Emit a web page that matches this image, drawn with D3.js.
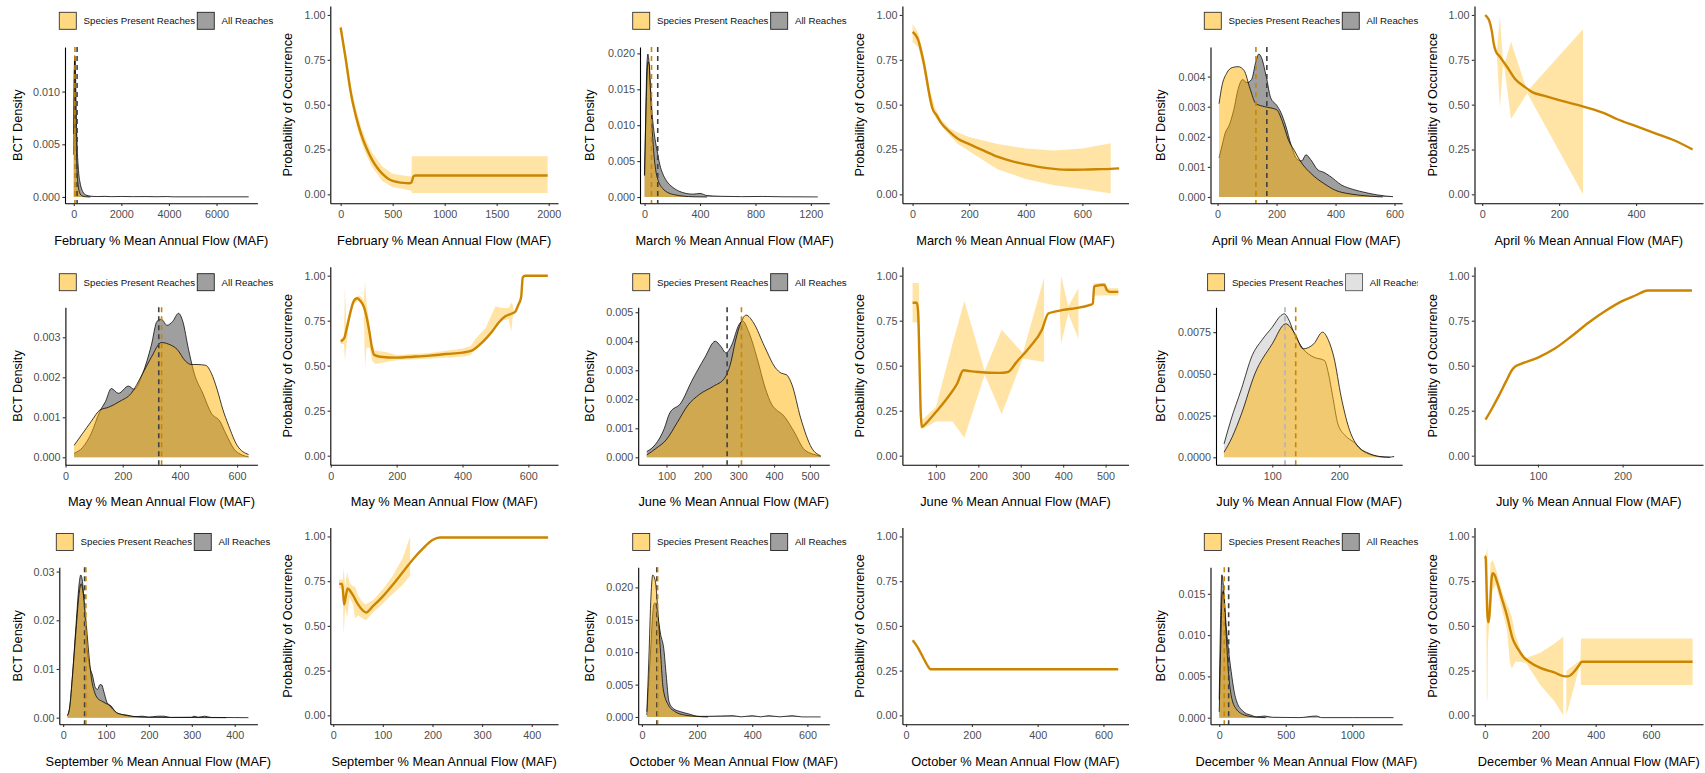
<!DOCTYPE html>
<html>
<head>
<meta charset="utf-8">
<script src="https://cdn.jsdelivr.net/npm/d3@7"></script>
<style>
  html, body { margin: 0; padding: 0; background: #ffffff; }
  svg { display: block; }
</style>
</head>
<body>
<svg id="chart" width="1705" height="773"></svg>
<script>
// ---------------------------------------------------------------------------
// Density of BCT occurrence (species-present vs all reaches) and modelled
// probability of occurrence against monthly % mean annual flow.
// ---------------------------------------------------------------------------

// ---- February ----
const febSpecies = [[0,0.006],[20,0.0115],[40,0.0134],[60,0.012],[90,0.007],[130,0.003],[180,0.0012],[250,0.0004],[350,0.0001],[500,0.00002],[700,0]];
const febAll = [[0,0.004],[20,0.0105],[45,0.0133],[70,0.012],[100,0.0085],[140,0.005],[200,0.0025],[280,0.0012],[380,0.0005],[500,0.0002],[700,0.00008],[1000,0.00004],[1300,0.00006],[1600,0.00003],[2000,0.00005],[2500,0.00003],[3000,0.00004],[3500,0.00002],[3900,0.00004],[4200,0.00001],[5500,0.00001],[7350,0.00001]];
const febMeans = [50, 140];   // [species present, all reaches]
const febProb = [[0,0.93],[25,0.84],[50,0.75],[75,0.65],[100,0.56],[150,0.43],[200,0.33],[250,0.255],[300,0.195],[350,0.15],[400,0.115],[450,0.09],[500,0.075],[550,0.068],[600,0.064],[660,0.062],[680,0.066],[700,0.1],[720,0.105],[1990,0.105]];
const febBand = [[0,0.90,0.96],[50,0.71,0.79],[100,0.52,0.60],[150,0.39,0.47],[200,0.29,0.37],[250,0.215,0.295],[300,0.155,0.235],[400,0.075,0.155],[500,0.04,0.115],[600,0.03,0.105],[680,0.02,0.10],[685,0.008,0.213],[1990,0.008,0.213]];

// ---- March ----
const marSpecies = [[0,0.003],[8,0.010],[16,0.016],[25,0.0188],[33,0.0185],[42,0.015],[52,0.0105],[65,0.0065],[80,0.0038],[100,0.0022],[130,0.0012],[170,0.0006],[220,0.0003],[280,0.00012],[350,0.00003],[450,0]];
const marAll = [[0,0.003],[8,0.011],[16,0.018],[24,0.0199],[32,0.0188],[42,0.0155],[55,0.0115],[70,0.0088],[90,0.0065],[110,0.0045],[130,0.0033],[160,0.0022],[200,0.0014],[250,0.0008],[300,0.0005],[350,0.0004],[400,0.0005],[450,0.0002],[550,0.0001],[700,0.00005],[850,0.00008],[1000,0.00003],[1250,0.00001]];
const marMeans = [50, 95];
const marProb = [[0,0.905],[10,0.89],[20,0.86],[30,0.80],[40,0.73],[50,0.64],[60,0.55],[70,0.48],[85,0.44],[100,0.40],[130,0.35],[160,0.31],[200,0.28],[250,0.245],[300,0.21],[350,0.185],[400,0.167],[450,0.152],[500,0.142],[550,0.137],[600,0.138],[650,0.14],[700,0.142],[730,0.145]];
const marBand = [[0,0.85,0.95],[20,0.82,0.90],[40,0.69,0.77],[60,0.51,0.59],[80,0.43,0.48],[100,0.39,0.42],[130,0.33,0.37],[160,0.28,0.345],[200,0.24,0.32],[300,0.14,0.28],[400,0.085,0.255],[500,0.05,0.245],[600,0.03,0.255],[700,0.005,0.285]];

// ---- April ----
const aprSpecies = [[5,0.0031],[15,0.0037],[30,0.0041],[50,0.0043],[70,0.00433],[90,0.0042],[110,0.0036],[130,0.0031],[160,0.0030],[200,0.0029],[220,0.0025],[240,0.0019],[260,0.00155],[280,0.0012],[320,0.00075],[360,0.00045],[400,0.00022],[450,0.0001],[500,0.00004],[560,0]];
const aprAll = [[5,0.0013],[15,0.0017],[25,0.0021],[40,0.0024],[55,0.0029],[70,0.0036],[85,0.0039],[100,0.0038],[115,0.0039],[130,0.0045],[140,0.00475],[150,0.0046],[165,0.0040],[180,0.0033],[200,0.00305],[215,0.0028],[230,0.0024],[250,0.0017],[270,0.00125],[285,0.0012],[300,0.0014],[315,0.00125],[340,0.0009],[360,0.00082],[380,0.0007],[420,0.0004],[460,0.00025],[500,0.00015],[540,0.00007],[570,0.00003],[595,0.00001]];
const aprMeans = [130, 167];
const aprProb = [[8,1.0],[12,0.99],[18,0.97],[25,0.91],[30,0.84],[35,0.80],[45,0.77],[55,0.74],[65,0.71],[85,0.645],[110,0.60],[130,0.57],[160,0.55],[200,0.525],[250,0.497],[300,0.465],[320,0.45],[350,0.42],[400,0.38],[450,0.34],[500,0.30],[547,0.25]];
const aprBand = [[38,0.78,0.80],[46,0.48,0.99],[54,0.72,0.75],[58,0.70,0.73],[75,0.42,0.85],[117,0.565,0.575],[262,0.0,0.92]];

// ---- May ----
const maySpecies = [[30,0.0003],[60,0.0006],[90,0.0009],[120,0.00118],[150,0.00125],[190,0.0014],[230,0.0016],[270,0.0021],[300,0.0025],[335,0.00287],[360,0.00283],[390,0.0027],[420,0.0024],[440,0.00232],[460,0.00232],[490,0.0023],[510,0.0021],[530,0.0017],[550,0.0012],[570,0.0008],[600,0.0003],[640,0.00007]];
const mayAll = [[30,0.0001],[60,0.00025],[90,0.0006],[120,0.00115],[140,0.0014],[160,0.00172],[185,0.0016],[220,0.00178],[240,0.0017],[270,0.0021],[300,0.0028],[320,0.0034],[335,0.00345],[355,0.0033],[375,0.0034],[395,0.0036],[410,0.0034],[430,0.0027],[450,0.0021],[480,0.0016],[510,0.0011],[540,0.0009],[560,0.0006],[590,0.0002],[620,0.00005],[640,0.00001]];
const mayMeans = [336, 326];
const mayProb = [[30,0.635],[40,0.65],[50,0.72],[60,0.80],[70,0.86],[80,0.875],[90,0.86],[100,0.83],[110,0.76],[118,0.68],[125,0.60],[132,0.56],[150,0.55],[200,0.545],[250,0.55],[300,0.556],[350,0.565],[400,0.573],[430,0.585],[460,0.63],[490,0.69],[510,0.74],[530,0.775],[550,0.79],[560,0.80],[570,0.84],[578,0.88],[583,0.99],[590,1.0],[659,1.0]];
const mayBand = [[30,0.62,0.65],[40,0.62,0.66],[43,0.53,0.95],[47,0.60,0.72],[55,0.74,0.79],[70,0.845,0.875],[85,0.86,0.89],[95,0.84,0.88],[100,0.81,0.86],[104,0.48,0.97],[108,0.60,0.86],[118,0.60,0.72],[125,0.53,0.62],[135,0.51,0.585],[170,0.52,0.575],[200,0.53,0.56],[300,0.54,0.57],[400,0.55,0.595],[425,0.56,0.61],[440,0.60,0.65],[470,0.64,0.71],[500,0.72,0.83],[520,0.75,0.82],[540,0.76,0.82],[548,0.69,0.85],[552,0.76,0.84],[555,0.80,0.81]];

// ---- June ----
const junSpecies = [[45,0.00008],[70,0.0003],[99,0.0006],[130,0.0012],[160,0.0018],[191,0.00216],[231,0.00245],[262,0.00273],[280,0.0033],[292,0.004],[307,0.00463],[322,0.0049],[343,0.00463],[373,0.00383],[404,0.00308],[420,0.0029],[434,0.00285],[450,0.0025],[474,0.00136],[505,0.00032],[530,0.00005]];
const junAll = [[45,0.0002],[68,0.00043],[94,0.001],[109,0.00153],[140,0.00187],[170,0.00262],[206,0.00342],[236,0.004],[251,0.00383],[266,0.0036],[282,0.00388],[302,0.00457],[312,0.0047],[330,0.0043],[353,0.0034],[375,0.0024],[394,0.00181],[410,0.0016],[424,0.00147],[455,0.0009],[485,0.00026],[525,0.00005],[530,0.00003]];
const junMeans = [309, 269];
const junProb = [[45,0.85],[55,0.85],[58,0.80],[61,0.55],[64,0.25],[67,0.16],[75,0.175],[90,0.215],[110,0.27],[130,0.33],[150,0.40],[165,0.475],[180,0.47],[200,0.465],[250,0.46],[270,0.465],[290,0.52],[320,0.60],[350,0.70],[365,0.79],[380,0.80],[400,0.81],[430,0.82],[460,0.835],[470,0.845],[473,0.94],[480,0.945],[497,0.95],[503,0.92],[510,0.91],[530,0.91]];
const junBand = [[45,0.74,0.96],[57,0.74,0.96],[60,0.55,0.96],[63,0.15,0.35],[68,0.15,0.20],[100,0.19,0.27],[139,0.19,0.62],[167,0.10,0.86],[215,0.45,0.47],[255,0.23,0.70],[305,0.54,0.57],[355,0.52,0.99],null,[392,0.79,0.81],[395,0.62,1.0],[412,0.79,0.83],[436,0.65,0.93],null,[472,0.89,0.96],[500,0.89,0.96],[505,0.89,0.93],[530,0.89,0.93]];

// ---- July ----
const julSpecies = [[28,0.0003],[40,0.0012],[54,0.0026],[74,0.005],[100,0.0068],[120,0.008],[134,0.0074],[146,0.0065],[162,0.0068],[175,0.0075],[184,0.007],[192,0.006],[203,0.0036],[214,0.0018],[227,0.0007],[243,0.00026],[260,0.00005],[276,0]];
const julAll = [[28,0.0008],[38,0.0022],[54,0.0041],[70,0.0061],[84,0.007],[100,0.0078],[113,0.0085],[118,0.0086],[124,0.0083],[133,0.0074],[146,0.0065],[162,0.006],[178,0.0058],[184,0.005],[190,0.0037],[198,0.002],[209,0.0013],[222,0.0009],[238,0.0003],[265,0.00002],[275,0.00001],[282,0.00005]];
const julMeans = [135, 119];
const julProb = [[38,0.2],[46,0.265],[54,0.335],[62,0.41],[70,0.48],[73,0.495],[80,0.51],[100,0.545],[120,0.595],[140,0.665],[160,0.74],[180,0.805],[200,0.86],[215,0.89],[230,0.918],[282,0.918]];

// ---- September ----
const sepSpecies = [[10,0.0004],[15,0.002],[22,0.0088],[30,0.018],[38,0.026],[42,0.0275],[46,0.026],[52,0.0211],[60,0.013],[66,0.008],[73,0.0053],[80,0.004],[90,0.0034],[100,0.0029],[107,0.0026],[115,0.0018],[124,0.0011],[140,0.0006],[160,0.0003],[190,0.0001],[230,0.00005],[300,0.00003],[330,0.00002],[380,0]];
const sepAll = [[10,0.0005],[15,0.002],[22,0.009],[30,0.019],[38,0.028],[41,0.0293],[45,0.028],[50,0.022],[55,0.015],[62,0.0105],[68,0.0088],[75,0.0062],[80,0.0058],[86,0.0068],[90,0.0067],[95,0.0053],[103,0.003],[112,0.0024],[124,0.001],[140,0.0006],[150,0.0005],[165,0.0002],[185,0.0003],[200,0.0001],[220,0.0003],[235,0.0003],[250,0.00005],[300,0.0001],[305,0.0003],[315,0.0001],[330,0.0003],[345,0.00005],[400,0.00002],[432,0]];
const sepMeans = [53, 50];
const sepProb = [[12,0.735],[18,0.735],[20,0.68],[22,0.62],[25,0.66],[29,0.71],[33,0.70],[40,0.67],[50,0.62],[60,0.585],[66,0.575],[80,0.61],[100,0.665],[120,0.73],[140,0.80],[160,0.87],[180,0.93],[200,0.98],[215,0.994],[433,0.994]];
const sepBand = [[12,0.71,0.76],[19,0.71,0.76],[21,0.45,0.82],[24,0.60,0.72],[28,0.55,0.80],[33,0.66,0.74],[40,0.62,0.72],[44,0.54,0.72],[50,0.56,0.67],[60,0.54,0.63],[66,0.53,0.62],[80,0.575,0.645],[100,0.625,0.705],[120,0.68,0.78],[140,0.73,0.88],[155,0.78,1.0]];

// ---- October ----
const octSpecies = [[18,0.0008],[25,0.0088],[33,0.0188],[39,0.0219],[48,0.0211],[59,0.0157],[68,0.0096],[77,0.0044],[95,0.0019],[121,0.0008],[154,0.0003],[194,0.0001],[240,0]];
const octAll = [[18,0.0003],[29,0.0085],[44,0.0175],[48,0.0176],[55,0.0162],[68,0.0127],[79,0.0106],[88,0.0065],[98,0.0024],[114,0.0013],[141,0.0008],[167,0.0005],[207,0.0001],[240,0.0001],[330,0.0002],[360,0.00002],[400,0.0002],[430,0.00002],[460,0.0002],[500,0.00002],[545,0.0002],[580,0.00001],[648,0.00001]];
const octMeans = [57, 54];
const octProb = [[20,0.42],[30,0.395],[40,0.365],[50,0.33],[60,0.295],[68,0.27],[75,0.258],[645,0.258]];

// ---- December ----
const decSpecies = [[0,0.0007],[11,0.0084],[22,0.0149],[30,0.0153],[44,0.0124],[58,0.0084],[71,0.0052],[90,0.0027],[126,0.0011],[193,0.0003],[260,0.0001],[350,0]];
const decAll = [[0,0.0022],[11,0.0124],[20,0.0173],[35,0.0153],[52,0.0112],[71,0.008],[90,0.0056],[112,0.0032],[140,0.0016],[166,0.001],[193,0.0006],[240,0.0003],[280,0.0001],[340,0.0002],[400,0.00005],[600,0.00001],[730,0.0002],[770,0.00001],[1000,0.00001],[1310,0.00001]];
const decMeans = [38, 71];
const decProb = [[0,0.89],[3,0.88],[5,0.78],[8,0.60],[12,0.52],[16,0.55],[20,0.65],[24,0.76],[28,0.795],[35,0.785],[45,0.74],[60,0.66],[80,0.555],[100,0.43],[120,0.37],[140,0.325],[160,0.30],[200,0.265],[250,0.24],[290,0.218],[300,0.218],[320,0.24],[340,0.28],[350,0.30],[750,0.30]];
const decBand = [[0,0.80,0.90],[4,0.80,0.90],[7,0.10,0.92],[9,0.08,0.94],[11,0.40,0.70],[15,0.50,0.60],[20,0.55,0.85],[28,0.70,0.87],[40,0.73,0.82],[60,0.60,0.70],[80,0.48,0.62],[90,0.30,0.58],[97,0.26,0.55],[110,0.30,0.45],[130,0.30,0.36],[150,0.29,0.32],[200,0.17,0.35],[250,0.08,0.40],[283,0.0,0.44],null,[294,0.0,0.25],[345,0.29,0.31],[347,0.17,0.43],[750,0.17,0.43]];

// ---- tick values ----
const probTicks = [0, 0.25, 0.5, 0.75, 1];
const febDensityTicks = [0, 2000, 4000, 6000];
const febProbTicks = [0, 500, 1000, 1500, 2000];
const marDensityTicks = [0, 400, 800, 1200];
const marProbTicks = [0, 200, 400, 600];
const aprDensityTicks = [0, 200, 400, 600];
const aprProbTicks = [0, 200, 400];
const mayTicks = [0, 200, 400, 600];
const junTicks = [100, 200, 300, 400, 500];
const julTicks = [100, 200];
const sepTicks = [0, 100, 200, 300, 400];
const octTicks = [0, 200, 400, 600];
const decDensityTicks = [0, 500, 1000];
const decProbTicks = [0, 200, 400, 600];

const febDensityY = [0, 0.005, 0.010];
const marDensityY = [0, 0.005, 0.010, 0.015, 0.020];
const aprDensityY = [0, 0.001, 0.002, 0.003, 0.004];
const mayDensityY = [0, 0.001, 0.002, 0.003];
const junDensityY = [0, 0.001, 0.002, 0.003, 0.004, 0.005];
const julDensityY = [0, 0.0025, 0.005, 0.0075];
const sepDensityY = [0, 0.01, 0.02, 0.03];
const octDensityY = [0, 0.005, 0.010, 0.015, 0.020];
const decDensityY = [0, 0.005, 0.010, 0.015];

const legendLabels = ["Species Present Reaches", "All Reaches"];

// ---- styling ----
const FONT = '"Liberation Sans", Arial, Helvetica, sans-serif';
const SPECIES_FILL = "#ffb100";
const LINE_ORANGE = "#cc8500";
const BAND_FILL = "#ffb100";
const PALETTES = {
  dark:  { allFill: "#404040", allKey: "#404040", allMean: "#404040", keyStroke: "#222" },
  light: { allFill: "#c4c4c4", allKey: "#c4c4c4", allMean: "#b3b3b3", keyStroke: "#555" }
};

// ---- panel layout ----
const ROWS = [
  { dens: [47, 203.3],  prob: [6, 203.3],    legendY: 12.3 },
  { dens: [307.3, 464.7], prob: [266.7, 464.7], legendY: 273.7 },
  { dens: [567.3, 724.3], prob: [527.5, 724.3], legendY: 533.5 }
];

const panels = [
  { kind: "density", row: 0, month: "February", species: febSpecies, all: febAll, means: febMeans, px: [65, 257.4], xDomain: [-368, 7718], yDomain: [-0.0006, 0.01423], xTicks: febDensityTicks, yTicks: febDensityY, yFormat: ".3f", legendX: 59.3, yTitleX: 17.4, palette: "dark" },
  { kind: "prob", row: 0, month: "February", prob: febProb, band: febBand, px: [330.3, 558], xDomain: [-99.5, 2089.5], xTicks: febProbTicks, yTitleX: 287.9 },
  { kind: "density", row: 0, month: "March", species: marSpecies, all: marAll, means: marMeans, px: [640, 829.3], xDomain: [-33, 1333], yDomain: [-0.000877, 0.02089], xTicks: marDensityTicks, yTicks: marDensityY, yFormat: ".3f", legendX: 632.7, yTitleX: 589.8, palette: "dark" },
  { kind: "prob", row: 0, month: "March", prob: marProb, band: marBand, px: [902.4, 1128.5], xDomain: [-36, 763], xTicks: marProbTicks, yTitleX: 859.9 },
  { kind: "density", row: 0, month: "April", species: aprSpecies, all: aprAll, means: aprMeans, px: [1210.5, 1402.2], xDomain: [-24, 626], yDomain: [-0.00021, 0.004983], xTicks: aprDensityTicks, yTicks: aprDensityY, yFormat: ".3f", legendX: 1204.3, yTitleX: 1160.7, palette: "dark" },
  { kind: "prob", row: 0, month: "April", prob: aprProb, band: aprBand, px: [1474.5, 1703], xDomain: [-20, 574], xTicks: aprProbTicks, yTitleX: 1432.3 },

  { kind: "density", row: 1, month: "May", species: maySpecies, all: mayAll, means: mayMeans, px: [65.4, 257.4], xDomain: [-0.5, 671], yDomain: [-0.000185, 0.00375], xTicks: mayTicks, yTicks: mayDensityY, yFormat: ".3f", legendX: 59.3, yTitleX: 17.4, palette: "dark" },
  { kind: "prob", row: 1, month: "May", prob: mayProb, band: mayBand, px: [330.3, 558], xDomain: [-1.5, 690], xTicks: mayTicks, yTitleX: 287.9 },
  { kind: "density", row: 1, month: "June", species: junSpecies, all: junAll, means: junMeans, px: [638.2, 829.3], xDomain: [21, 554], yDomain: [-0.000255, 0.00517], xTicks: junTicks, yTicks: junDensityY, yFormat: ".3f", legendX: 632.7, yTitleX: 589.8, palette: "dark" },
  { kind: "prob", row: 1, month: "June", prob: junProb, band: junBand, px: [902.4, 1128.5], xDomain: [21, 554], xTicks: junTicks, yTitleX: 859.9 },
  { kind: "density", row: 1, month: "July", species: julSpecies, all: julAll, means: julMeans, px: [1216, 1402.2], xDomain: [16, 294], yDomain: [-0.000444, 0.00899], xTicks: julTicks, yTicks: julDensityY, yFormat: ".4f", legendX: 1207.6, legendClip: 1418, yTitleX: 1160.7, palette: "light" },
  { kind: "prob", row: 1, month: "July", prob: julProb, band: null, px: [1474.5, 1703], xDomain: [25, 295], xTicks: julTicks, yTitleX: 1432.3 },

  { kind: "density", row: 2, month: "September", species: sepSpecies, all: sepAll, means: sepMeans, px: [59.3, 257.4], xDomain: [-9, 453], yDomain: [-0.00136, 0.03088], xTicks: sepTicks, yTicks: sepDensityY, yFormat: ".2f", legendX: 56.3, yTitleX: 17.4, palette: "dark" },
  { kind: "prob", row: 2, month: "September", prob: sepProb, band: sepBand, px: [330.3, 558], xDomain: [-5.9, 452.9], xTicks: sepTicks, yTitleX: 287.9 },
  { kind: "density", row: 2, month: "October", species: octSpecies, all: octAll, means: octMeans, px: [638.2, 829.3], xDomain: [-13.5, 679.5], yDomain: [-0.00113, 0.0231], xTicks: octTicks, yTicks: octDensityY, yFormat: ".3f", legendX: 632.7, yTitleX: 589.8, palette: "dark" },
  { kind: "prob", row: 2, month: "October", prob: octProb, band: null, px: [902.4, 1128.5], xDomain: [-11.25, 676.25], xTicks: octTicks, yTitleX: 859.9 },
  { kind: "density", row: 2, month: "December", species: decSpecies, all: decAll, means: decMeans, px: [1210.5, 1402.2], xDomain: [-65.5, 1375.5], yDomain: [-0.0008, 0.01821], xTicks: decDensityTicks, yTicks: decDensityY, yFormat: ".3f", legendX: 1204.3, yTitleX: 1160.7, palette: "dark" },
  { kind: "prob", row: 2, month: "December", prob: decProb, band: decBand, px: [1474.5, 1703], xDomain: [-37.5, 787.5], xTicks: decProbTicks, yTitleX: 1432.3 }
];

// ---------------------------------------------------------------------------
const svg = d3.select("#chart").attr("font-family", FONT);

function styleAxis(a) {
  a.attr("font-family", FONT).attr("font-size", 10.8);
  a.select(".domain").attr("stroke", "#000").attr("stroke-width", 1.1);
  a.selectAll(".tick line").attr("stroke", "#333").attr("stroke-width", 1.1);
  a.selectAll(".tick text").attr("fill", "#4d4d4d");
}

function drawAxes(g, x, y, p, py, yFormat) {
  const xa = g.append("g")
    .attr("transform", `translate(0,${py[1]})`)
    .call(d3.axisBottom(x).tickValues(p.xTicks).tickSize(2.7).tickSizeOuter(0)
      .tickPadding(4.6).tickFormat(d3.format("d")));
  styleAxis(xa);
  const ya = g.append("g")
    .attr("transform", `translate(${p.px[0]},0)`)
    .call(d3.axisLeft(y).tickValues(p.yTicks || probTicks).tickSize(2.7).tickSizeOuter(0)
      .tickPadding(2.2).tickFormat(d3.format(yFormat)));
  styleAxis(ya);

  g.append("text")
    .attr("x", (p.px[0] + p.px[1]) / 2)
    .attr("y", py[1] + 41.3)
    .attr("text-anchor", "middle")
    .attr("font-size", 12.8)
    .attr("fill", "#000")
    .text(`${p.month} % Mean Annual Flow (MAF)`);

  g.append("text")
    .attr("transform", `translate(${p.yTitleX},${(py[0] + py[1]) / 2}) rotate(-90)`)
    .attr("dy", "0.35em")
    .attr("text-anchor", "middle")
    .attr("font-size", 12.8)
    .attr("fill", "#000")
    .text(p.kind === "density" ? "BCT Density" : "Probability of Occurrence");
}

function drawLegend(p, pal) {
  const rowY = ROWS[p.row].legendY;
  const g = svg.append("g");
  if (p.legendClip) {
    const id = "clip-legend-" + p.month;
    svg.append("clipPath").attr("id", id)
      .append("rect").attr("x", p.legendX - 5).attr("y", rowY - 5)
      .attr("width", p.legendClip - p.legendX + 5).attr("height", 30);
    g.attr("clip-path", `url(#${id})`);
  }
  const keys = [
    { label: legendLabels[0], fill: SPECIES_FILL, stroke: "#333" },
    { label: legendLabels[1], fill: pal.allKey, stroke: pal.keyStroke }
  ];
  let cx = p.legendX;
  keys.forEach(k => {
    g.append("rect")
      .attr("x", cx).attr("y", rowY).attr("width", 17).attr("height", 17)
      .attr("fill", k.fill).attr("fill-opacity", 0.5)
      .attr("stroke", k.stroke).attr("stroke-width", 0.9);
    const t = g.append("text")
      .attr("x", cx + 17 + 7.3).attr("y", rowY + 8.5).attr("dy", "0.35em")
      .attr("font-size", 9.7).attr("fill", "#111")
      .text(k.label);
    cx = cx + 17 + 7.3 + t.node().getComputedTextLength() + 2.2;
  });
}

function drawDensity(p) {
  const py = ROWS[p.row].dens;
  const pal = PALETTES[p.palette];
  const g = svg.append("g");
  const x = d3.scaleLinear().domain(p.xDomain).range(p.px);
  const y = d3.scaleLinear().domain(p.yDomain).range([py[1], py[0]]);
  const area = d3.area().x(d => x(d[0])).y0(y(0)).y1(d => y(d[1])).curve(d3.curveMonotoneX);
  const line = d3.line().x(d => x(d[0])).y(d => y(d[1])).curve(d3.curveMonotoneX);

  // all reaches underneath, species-present reaches on top
  g.append("path").datum(p.all).attr("d", area)
    .attr("fill", pal.allFill).attr("fill-opacity", 0.5);
  g.append("path").datum(p.all).attr("d", line)
    .attr("fill", "none").attr("stroke", "#000").attr("stroke-width", 0.75);
  g.append("path").datum(p.species).attr("d", area)
    .attr("fill", SPECIES_FILL).attr("fill-opacity", 0.5);
  g.append("path").datum(p.species).attr("d", line)
    .attr("fill", "none").attr("stroke", "#000").attr("stroke-width", 0.75);

  // group means
  [[p.means[1], pal.allMean], [p.means[0], LINE_ORANGE]].forEach(([m, c]) => {
    g.append("line")
      .attr("x1", x(m)).attr("x2", x(m)).attr("y1", py[0]).attr("y2", py[1])
      .attr("stroke", c).attr("stroke-width", 1.6).attr("stroke-dasharray", "5,4");
  });

  drawAxes(g, x, y, p, py, p.yFormat);
  drawLegend(p, pal);
}

function drawProb(p) {
  const py = ROWS[p.row].prob;
  const g = svg.append("g");
  const x = d3.scaleLinear().domain(p.xDomain).range(p.px);
  const y = d3.scaleLinear().domain([-0.05, 1.05]).range([py[1], py[0]]);

  if (p.band) {
    const band = d3.area().defined(d => d != null)
      .x(d => x(d[0])).y0(d => y(d[1])).y1(d => y(d[2]));
    g.append("path").datum(p.band).attr("d", band)
      .attr("fill", BAND_FILL).attr("fill-opacity", 0.35);
  }
  const line = d3.line().x(d => x(d[0])).y(d => y(d[1])).curve(d3.curveMonotoneX);
  g.append("path").datum(p.prob).attr("d", line)
    .attr("fill", "none").attr("stroke", LINE_ORANGE).attr("stroke-width", 2.4);

  drawAxes(g, x, y, p, py, ".2f");
}

panels.forEach(p => (p.kind === "density" ? drawDensity(p) : drawProb(p)));
</script>
</body>
</html>
